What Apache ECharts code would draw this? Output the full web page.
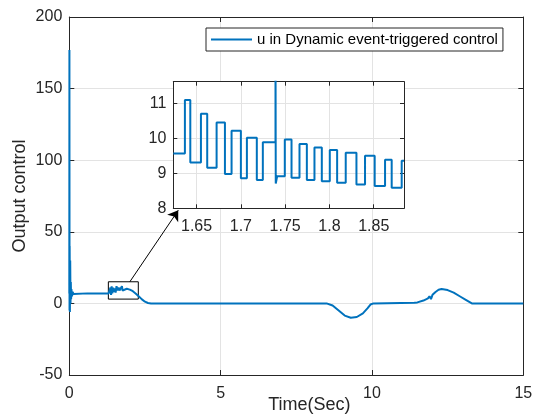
<!DOCTYPE html>
<html>
<head>
<meta charset="utf-8">
<script src="https://cdn.jsdelivr.net/npm/echarts@6/dist/echarts.min.js"></script>
<style>
  html, body { margin: 0; padding: 0; background: #fff; }
  #main { width: 533px; height: 414px; }
</style>
</head>
<body>
<div id="main"></div>
<script>
// main curve: time (s) and control value
var mainT = [0, 0.004, 0.008, 0.012, 0.02, 0.03, 0.04, 0.05, 0.06, 0.07, 0.09, 0.11, 0.14, 0.2,
  0.6, 1.0, 1.3, 1.34, 1.36, 1.38, 1.40, 1.42, 1.45, 1.48, 1.5, 1.53, 1.56, 1.6, 1.63, 1.66,
  1.7, 1.74, 1.76, 1.8, 1.9, 2.0, 2.1, 2.2, 2.3, 2.4, 2.5, 2.6, 2.7, 5, 7, 8.5, 8.7, 8.9, 9.1,
  9.3, 9.5, 9.7, 9.85, 9.95, 10.05, 11.4, 11.5, 11.7, 11.85, 11.9, 11.95, 12.0, 12.1, 12.2,
  12.3, 12.5, 12.7, 12.9, 13.1, 13.3, 15];
var mainU = [7, 177, -5, 40, -6, 30, 0, 15, 3, 10, 5, 8, 6.5, 7,
  7, 7, 7, 7.5, 11, 6, 12, 7, 11, 8, 10.5, 7.5, 12, 9, 11, 9,
  10.5, 12, 9, 10.3, 10.2, 9.6, 8.5, 6.8, 4.8, 2.8, 1.2, 0.3, 0, 0, 0, 0, -1.5, -5, -8.5,
  -10, -9.5, -7, -3.5, -0.8, 0, 0.4, 0.7, 2, 3.5, 5, 3, 6, 8, 9.5,
  10, 9.3, 7.5, 5, 2.5, 0, 0];

// zoomed segment: switching instants and held values
var insetT = [1.6237, 1.6368, 1.6429, 1.6549, 1.6620, 1.6726, 1.6820, 1.6895, 1.7000, 1.7068,
  1.7180, 1.7248, 1.7391, 1.7394, 1.7410, 1.7496, 1.7572, 1.7662, 1.7745, 1.7831, 1.7914,
  1.8004, 1.8087, 1.8184, 1.8305, 1.8402, 1.8511, 1.8628, 1.8703, 1.8816, 1.8842];
var insetU = [9.57, 11.1, 9.31, 10.70, 9.16, 10.45, 8.98, 10.22, 8.86, 10.02,
  8.81, 9.89, 13, 8.71, 8.92, 9.97, 8.87, 9.84, 8.81, 9.74, 8.77,
  9.67, 8.73, 9.59, 8.68, 9.50, 8.64, 9.39, 8.59, 9.36, 9.36];

var insetTicks = [1.65, 1.7, 1.75, 1.8, 1.85];
var zoomBox = [[1.29, 15.1], [2.28, 3.0]];
var arrowLine = [[2.0, 15.1], [3.6, 65]];

var mainData = mainT.map(function (t, i) { return [t, mainU[i]]; });
var insetData = insetT.map(function (t, i) { return [t, insetU[i]]; });

var FONT = 'Liberation Sans, Arial, Helvetica, sans-serif';
var AX = '#262626';
var GRIDC = '#e3e3e3';
var BLUE = '#0072BD';

function boxAxis(extra) {
  var a = {
    type: 'value',
    axisLine: { show: true, onZero: false, lineStyle: { color: AX, width: 1 } },
    axisTick: { show: true, inside: true, length: 5, lineStyle: { color: AX } },
    axisLabel: { show: false },
    splitLine: { show: false }
  };
  for (var k in extra) a[k] = extra[k];
  return a;
}

var chart = echarts.init(document.getElementById('main'));
chart.setOption({
  animation: false,
  textStyle: { fontFamily: FONT },
  grid: [
    { left: 69.3, top: 17, width: 454, height: 358, outerBoundsMode: 'none', containLabel: false },
    { left: 173.3, top: 81.7, width: 230.7, height: 126.6, show: true,
      backgroundColor: '#fff', borderWidth: 0, z: 3, outerBoundsMode: 'none', containLabel: false }
  ],
  legend: {
    data: ['u in Dynamic event-triggered control'],
    left: 206, top: 28,
    padding: [4, 5, 4, 5],
    icon: 'rect',
    itemWidth: 41, itemHeight: 2, itemGap: 4,
    backgroundColor: '#fff',
    borderColor: AX, borderWidth: 1,
    textStyle: { fontSize: 15, color: '#000', fontFamily: FONT }
  },
  xAxis: [
    boxAxis({
      gridIndex: 0, min: 0, max: 15, interval: 5, position: 'bottom',
      axisLabel: { show: true, fontSize: 16, margin: 11, color: AX, fontFamily: FONT },
      splitLine: { show: true, lineStyle: { color: GRIDC } },
      name: 'Time(Sec)', nameLocation: 'middle', nameGap: 21, nameMoveOverlap: false,
      nameTextStyle: { fontSize: 18, color: AX, fontFamily: FONT, padding: [0, 0, 0, 26] }
    }),
    boxAxis({ gridIndex: 0, min: 0, max: 15, interval: 5, position: 'top' }),
    boxAxis({
      gridIndex: 1, min: 1.6237, max: 1.8842, position: 'bottom', z: 4,
      axisTick: { show: true, inside: true, length: 4, lineStyle: { color: AX }, customValues: insetTicks },
      axisLabel: { show: true, fontSize: 16, margin: 10, color: AX, fontFamily: FONT, customValues: insetTicks },
      splitLine: { show: true, lineStyle: { color: GRIDC } }
    }),
    boxAxis({
      gridIndex: 1, min: 1.6237, max: 1.8842, position: 'top', z: 4,
      axisTick: { show: true, inside: true, length: 4, lineStyle: { color: AX }, customValues: insetTicks }
    })
  ],
  yAxis: [
    boxAxis({
      gridIndex: 0, min: -50, max: 200, interval: 50, position: 'left',
      axisLabel: { show: true, fontSize: 16, margin: 7, color: AX, fontFamily: FONT },
      splitLine: { show: true, lineStyle: { color: GRIDC } },
      name: 'Output control', nameLocation: 'middle', nameGap: 40, nameMoveOverlap: false,
      nameTextStyle: { fontSize: 18, color: AX, fontFamily: FONT }
    }),
    boxAxis({ gridIndex: 0, min: -50, max: 200, interval: 50, position: 'right' }),
    boxAxis({
      gridIndex: 1, min: 8, max: 11.62, interval: 1, position: 'left', z: 4,
      axisTick: { show: true, inside: true, length: 4, lineStyle: { color: AX } },
      axisLabel: { show: true, fontSize: 16, margin: 7, color: AX, fontFamily: FONT, showMaxLabel: false },
      splitLine: { show: true, lineStyle: { color: GRIDC } }
    }),
    boxAxis({
      gridIndex: 1, min: 8, max: 11.62, interval: 1, position: 'right', z: 4,
      axisTick: { show: true, inside: true, length: 4, lineStyle: { color: AX } }
    })
  ],
  series: [
    {
      name: 'u in Dynamic event-triggered control',
      type: 'line',
      xAxisIndex: 0, yAxisIndex: 0,
      data: mainData,
      symbol: 'none',
      lineStyle: { color: BLUE, width: 2 },
      itemStyle: { color: BLUE },
      markArea: {
        silent: true,
        label: { show: false },
        itemStyle: { color: 'rgba(0,0,0,0)', borderColor: '#000', borderWidth: 1 },
        data: [[{ coord: zoomBox[0] }, { coord: zoomBox[1] }]]
      },
      markLine: {
        silent: true,
        symbol: ['none', 'arrow'],
        symbolSize: 10,
        label: { show: false },
        lineStyle: { color: '#000', width: 1, type: 'solid' },
        data: [[{ coord: arrowLine[0] }, { coord: arrowLine[1] }]]
      }
    },
    {
      name: 'zoom',
      type: 'line',
      xAxisIndex: 2, yAxisIndex: 2,
      data: insetData,
      step: 'end',
      symbol: 'none',
      z: 5,
      lineStyle: { color: BLUE, width: 2 }
    }
  ]
});
</script>
</body>
</html>
